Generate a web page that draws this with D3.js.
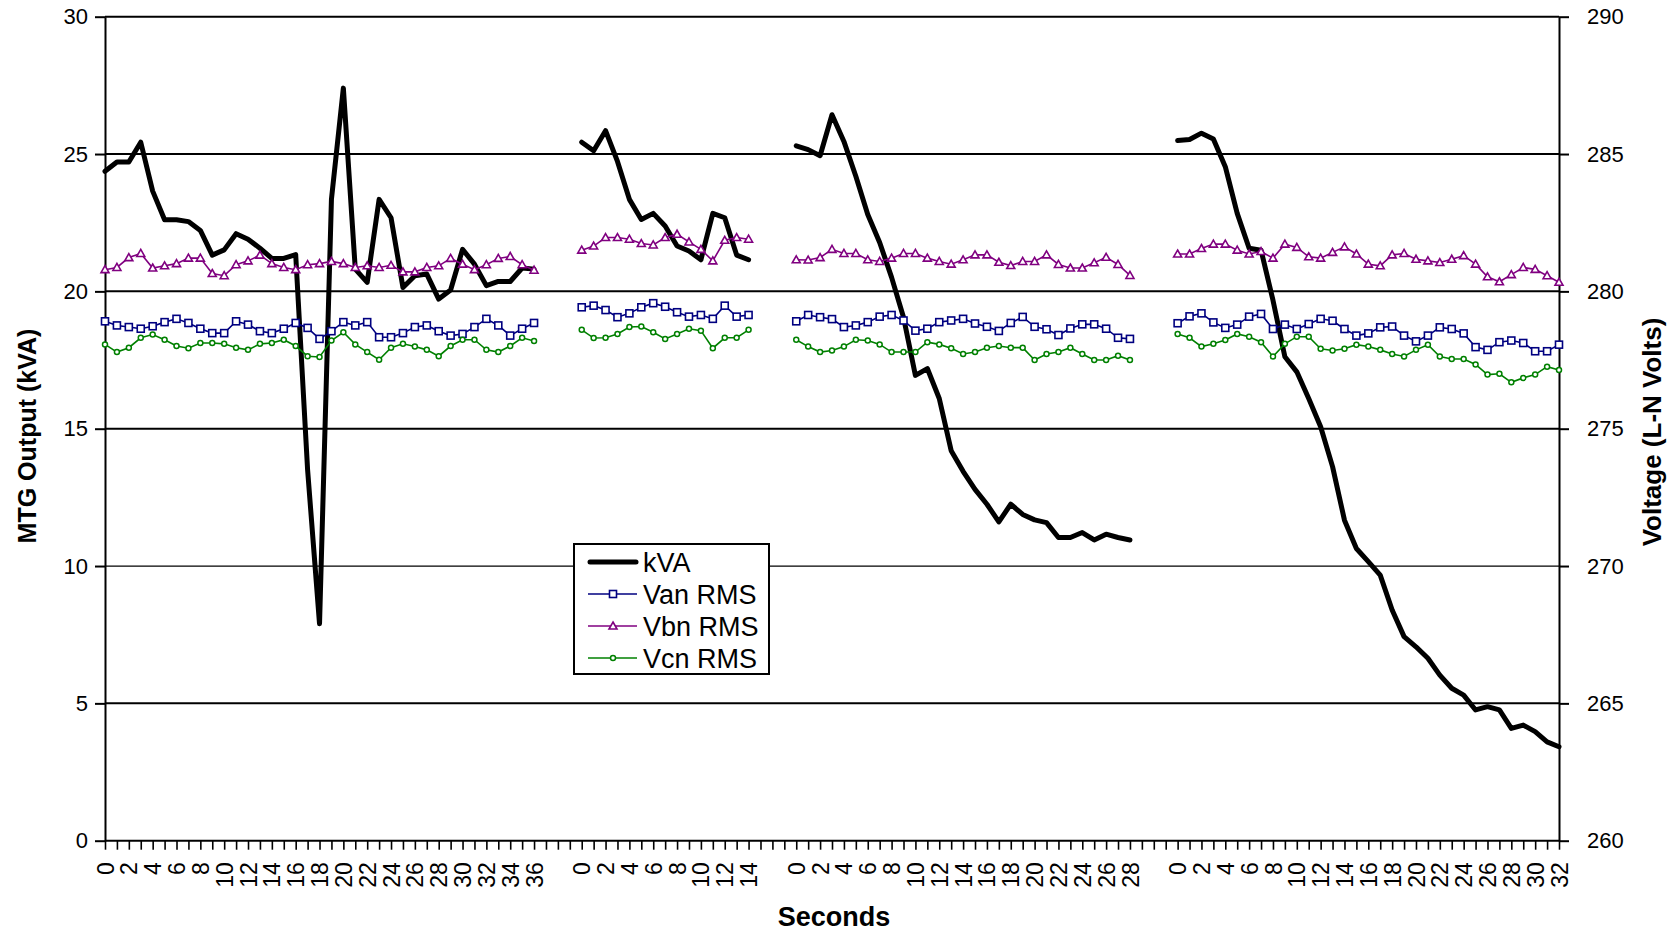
<!DOCTYPE html>
<html>
<head>
<meta charset="utf-8">
<script src="https://cdn.jsdelivr.net/npm/d3@7"></script>
<style>
  html, body { margin: 0; padding: 0; background: #fff; }
  svg { display: block; font-family: "Liberation Sans", Arial, sans-serif; }
</style>
</head>
<body>
<svg id="chart" width="1673" height="933"></svg>
<script>
// ---------------- DATA ----------------
// Category labels (seconds), blank strings = gaps between the four runs
const seconds = [
  "0","1","2","3","4","5","6","7","8","9","10","11","12","13","14","15","16","17","18","19","20",
  "21","22","23","24","25","26","27","28","29","30","31","32","33","34","35","36",
  "","","",
  "0","1","2","3","4","5","6","7","8","9","10","11","12","13","14",
  "","","",
  "0","1","2","3","4","5","6","7","8","9","10","11","12","13","14","15","16","17","18","19","20",
  "21","22","23","24","25","26","27","28",
  "","","",
  "0","1","2","3","4","5","6","7","8","9","10","11","12","13","14","15","16","17","18","19","20",
  "21","22","23","24","25","26","27","28","29","30","31","32"
];

const gap = [null, null, null];

const kVA = [].concat(
  [24.37, 24.71, 24.71, 25.43, 23.65, 22.61, 22.61, 22.54, 22.22, 21.32, 21.51, 22.10, 21.90, 21.57, 21.20, 21.20, 21.34, 13.5, 7.9, 23.35,
   27.4, 20.81, 20.33, 23.35, 22.68, 20.14, 20.57, 20.63, 19.72, 20.05, 21.53, 20.99, 20.21, 20.36, 20.36, 20.85, 20.81],
  gap,
  [25.43, 25.12, 25.85, 24.73, 23.35, 22.62, 22.84, 22.38, 21.65, 21.47, 21.15, 22.84, 22.68, 21.32, 21.15],
  gap,
  [25.30, 25.16, 24.94, 26.43, 25.46, 24.19, 22.80, 21.78, 20.51, 19.06, 16.94, 17.19, 16.1, 14.2, 13.45, 12.79, 12.25, 11.61, 12.25, 11.88,
   11.68, 11.58, 11.04, 11.04, 11.22, 10.95, 11.16, 11.04, 10.95],
  gap,
  [25.49, 25.53, 25.76, 25.55, 24.54, 22.84, 21.57, 21.50, 19.68, 17.62, 17.07, 16.10, 15.07, 13.62, 11.67, 10.64, 10.16, 9.67, 8.40, 7.43,
   7.06, 6.64, 6.03, 5.55, 5.30, 4.76, 4.88, 4.76, 4.09, 4.21, 3.97, 3.60, 3.42]
);

const vanRMS = [].concat(
  [278.91, 278.76, 278.70, 278.64, 278.73, 278.88, 279.00, 278.85, 278.64, 278.48, 278.48, 278.91, 278.79, 278.55, 278.48, 278.64, 278.85, 278.67, 278.27, 278.55,
   278.88, 278.76, 278.88, 278.33, 278.33, 278.48, 278.70, 278.76, 278.55, 278.39, 278.45, 278.70, 279.00, 278.76, 278.39, 278.64, 278.85],
  gap,
  [279.42, 279.48, 279.32, 279.06, 279.20, 279.42, 279.57, 279.44, 279.24, 279.08, 279.14, 279.00, 279.48, 279.08, 279.14],
  gap,
  [278.91, 279.14, 279.06, 278.99, 278.70, 278.76, 278.88, 279.08, 279.14, 278.94, 278.57, 278.64, 278.88, 278.94, 279.00, 278.83, 278.71, 278.56, 278.85, 279.07,
   278.71, 278.62, 278.41, 278.65, 278.80, 278.80, 278.64, 278.31, 278.27],
  gap,
  [278.84, 279.09, 279.20, 278.87, 278.67, 278.79, 279.08, 279.18, 278.63, 278.79, 278.63, 278.81, 279.00, 278.93, 278.63, 278.39, 278.47, 278.69, 278.72, 278.39,
   278.18, 278.39, 278.69, 278.63, 278.47, 277.97, 277.87, 278.15, 278.21, 278.12, 277.82, 277.82, 278.06]
);

const vbnRMS = [].concat(
  [280.79, 280.87, 281.23, 281.38, 280.85, 280.93, 281.01, 281.21, 281.21, 280.65, 280.57, 280.97, 281.11, 281.32, 281.01, 280.87, 280.79, 280.97, 281.01, 281.09,
   281.01, 280.87, 280.93, 280.87, 280.95, 280.71, 280.71, 280.87, 280.93, 281.20, 280.99, 280.79, 280.97, 281.20, 281.27, 280.97, 280.77],
  gap,
  [281.50, 281.65, 281.96, 281.96, 281.90, 281.74, 281.69, 281.96, 282.08, 281.80, 281.53, 281.11, 281.86, 281.96, 281.90],
  gap,
  [281.15, 281.14, 281.23, 281.53, 281.38, 281.38, 281.15, 281.09, 281.21, 281.38, 281.38, 281.21, 281.09, 280.99, 281.15, 281.33, 281.33, 281.06, 280.94, 281.09,
   281.09, 281.33, 280.98, 280.85, 280.85, 281.04, 281.24, 280.98, 280.58],
  gap,
  [281.36, 281.36, 281.56, 281.72, 281.72, 281.50, 281.36, 281.45, 281.21, 281.72, 281.60, 281.26, 281.21, 281.42, 281.62, 281.36, 280.99, 280.93, 281.33, 281.38,
   281.17, 281.11, 281.05, 281.17, 281.30, 280.99, 280.53, 280.35, 280.61, 280.87, 280.80, 280.57, 280.33]
);

const vcnRMS = [].concat(
  [278.07, 277.79, 277.95, 278.31, 278.43, 278.24, 278.01, 277.93, 278.12, 278.12, 278.09, 277.95, 277.87, 278.09, 278.12, 278.24, 278.01, 277.64, 277.61, 278.21,
   278.51, 278.07, 277.79, 277.51, 277.95, 278.09, 277.99, 277.87, 277.64, 278.01, 278.24, 278.24, 277.87, 277.79, 278.01, 278.31, 278.19],
  gap,
  [278.60, 278.30, 278.31, 278.45, 278.70, 278.72, 278.51, 278.27, 278.45, 278.64, 278.57, 277.93, 278.31, 278.31, 278.60],
  gap,
  [278.24, 277.99, 277.79, 277.85, 277.99, 278.24, 278.21, 278.07, 277.79, 277.79, 277.79, 278.15, 278.07, 277.93, 277.72, 277.79, 277.95, 278.01, 277.95, 277.95,
   277.50, 277.72, 277.79, 277.95, 277.72, 277.50, 277.50, 277.66, 277.50],
  gap,
  [278.45, 278.31, 277.99, 278.09, 278.23, 278.45, 278.35, 278.15, 277.63, 278.09, 278.35, 278.35, 277.91, 277.85, 277.91, 278.06, 277.99, 277.87, 277.72, 277.63,
   277.87, 278.06, 277.63, 277.54, 277.54, 277.34, 276.97, 277.00, 276.69, 276.85, 276.97, 277.26, 277.14]
);

const leftTicks = [0, 5, 10, 15, 20, 25, 30];
const rightTicks = [260, 265, 270, 275, 280, 285, 290];

const seriesNames = ["kVA", "Van RMS", "Vbn RMS", "Vcn RMS"];

// ---------------- LAYOUT ----------------
const plot = { left: 105, right: 1559, top: 16.7, bottom: 840.7 };
const svg = d3.select("#chart");

const idx = d3.range(seconds.length);
const x = d3.scalePoint().domain(idx).range([plot.left, plot.right]);
const yL = d3.scaleLinear().domain([0, 30]).range([plot.bottom, plot.top]);
const yR = d3.scaleLinear().domain([260, 290]).range([plot.bottom, plot.top]);

// gridlines
svg.append("g").selectAll("line")
  .data(leftTicks.filter(d => d > 0))
  .join("line")
  .attr("x1", plot.left).attr("x2", plot.right)
  .attr("y1", d => yL(d)).attr("y2", d => yL(d))
  .attr("stroke", "#000")
  .attr("stroke-width", d => d === 10 ? 1.2 : 2);

// left axis
const gL = svg.append("g").attr("transform", `translate(${plot.left},0)`)
  .call(d3.axisLeft(yL).tickValues(leftTicks).tickSize(10).tickPadding(7).tickSizeOuter(0));
gL.select(".domain").attr("stroke", "#000").attr("stroke-width", 2);
gL.selectAll(".tick line").attr("stroke", "#000").attr("stroke-width", 2);
gL.selectAll(".tick text").attr("font-size", 22).attr("fill", "#000")
  .attr("font-family", "Liberation Sans, Arial, sans-serif");

// right axis
const gR = svg.append("g").attr("transform", `translate(${plot.right},0)`)
  .call(d3.axisRight(yR).tickValues(rightTicks).tickSize(10).tickPadding(18).tickSizeOuter(0));
gR.select(".domain").attr("stroke", "#000").attr("stroke-width", 2);
gR.selectAll(".tick line").attr("stroke", "#000").attr("stroke-width", 2);
gR.selectAll(".tick text").attr("font-size", 22).attr("fill", "#000")
  .attr("font-family", "Liberation Sans, Arial, sans-serif");

// bottom axis
const gB = svg.append("g").attr("transform", `translate(0,${plot.bottom})`)
  .call(d3.axisBottom(x).tickSize(9).tickSizeOuter(0)
    .tickFormat(i => (i % 2 === 0 ? seconds[i] : "")));
gB.select(".domain").attr("stroke", "#000").attr("stroke-width", 2)
  .attr("d", `M${plot.left},0H${plot.right}`);
gB.selectAll(".tick line").attr("stroke", "#000").attr("stroke-width", 1.6);
gB.selectAll(".tick text")
  .attr("font-size", 23).attr("fill", "#000")
  .attr("font-family", "Liberation Sans, Arial, sans-serif")
  .attr("transform", "rotate(-90)")
  .attr("text-anchor", "end")
  .attr("x", -21.5).attr("y", 0).attr("dy", "0.35em");

// ---------------- SERIES ----------------
const lineL = d3.line().defined(d => d.v != null).x(d => x(d.i)).y(d => yL(d.v));
const lineR = d3.line().defined(d => d.v != null).x(d => x(d.i)).y(d => yR(d.v));
const toPts = arr => arr.map((v, i) => ({ i, v }));

svg.append("path").datum(toPts(kVA))
  .attr("d", lineL).attr("fill", "none").attr("stroke", "#000")
  .attr("stroke-width", 5).attr("stroke-linejoin", "round").attr("stroke-linecap", "round");

const volt = [
  { data: vanRMS, color: "#000080", shape: "square" },
  { data: vbnRMS, color: "#800080", shape: "triangle" },
  { data: vcnRMS, color: "#008000", shape: "circle" }
];

function drawMarker(g, shape, color, cx, cy) {
  if (shape === "square") {
    g.append("rect").attr("x", cx - 3.5).attr("y", cy - 3.5).attr("width", 7).attr("height", 7)
      .attr("fill", "#fff").attr("stroke", color).attr("stroke-width", 1.6);
  } else if (shape === "triangle") {
    g.append("path").attr("d", `M${cx},${cy - 4}L${cx + 4},${cy + 3}L${cx - 4},${cy + 3}Z`)
      .attr("fill", "#fff").attr("stroke", color).attr("stroke-width", 1.6);
  } else {
    g.append("circle").attr("cx", cx).attr("cy", cy).attr("r", 2.5)
      .attr("fill", "#fff").attr("stroke", color).attr("stroke-width", 1.5);
  }
}

volt.forEach(s => {
  const pts = toPts(s.data);
  svg.append("path").datum(pts).attr("d", lineR).attr("fill", "none")
    .attr("stroke", s.color).attr("stroke-width", 1.6);
  const g = svg.append("g");
  pts.filter(d => d.v != null).forEach(d => drawMarker(g, s.shape, s.color, x(d.i), yR(d.v)));
});

// ---------------- LEGEND ----------------
const lg = svg.append("g");
lg.append("rect").attr("x", 574).attr("y", 544).attr("width", 195).attr("height", 130)
  .attr("fill", "#fff").attr("stroke", "#000").attr("stroke-width", 2);
const legY = [562, 594, 626, 658];
seriesNames.forEach((name, k) => {
  const yy = legY[k];
  if (k === 0) {
    lg.append("line").attr("x1", 590).attr("x2", 636).attr("y1", yy).attr("y2", yy)
      .attr("stroke", "#000").attr("stroke-width", 5).attr("stroke-linecap", "round");
  } else {
    const s = volt[k - 1];
    lg.append("line").attr("x1", 588).attr("x2", 637).attr("y1", yy).attr("y2", yy)
      .attr("stroke", s.color).attr("stroke-width", 1.6);
    drawMarker(lg, s.shape, s.color, 613, yy);
  }
  lg.append("text").attr("x", 643).attr("y", yy).attr("dy", "0.36em")
    .attr("font-size", 27).attr("fill", "#000").text(name);
});

// ---------------- TITLES ----------------
svg.append("text").attr("transform", "translate(27,436) rotate(-90)")
  .attr("text-anchor", "middle").attr("dy", "0.35em")
  .attr("font-size", 25).attr("font-weight", "bold").text("MTG Output (kVA)");
svg.append("text").attr("transform", "translate(1652,432) rotate(-90)")
  .attr("text-anchor", "middle").attr("dy", "0.35em")
  .attr("font-size", 26).attr("font-weight", "bold").text("Voltage (L-N Volts)");
svg.append("text").attr("x", 834).attr("y", 926)
  .attr("text-anchor", "middle")
  .attr("font-size", 27).attr("font-weight", "bold").text("Seconds");
</script>
</body>
</html>
